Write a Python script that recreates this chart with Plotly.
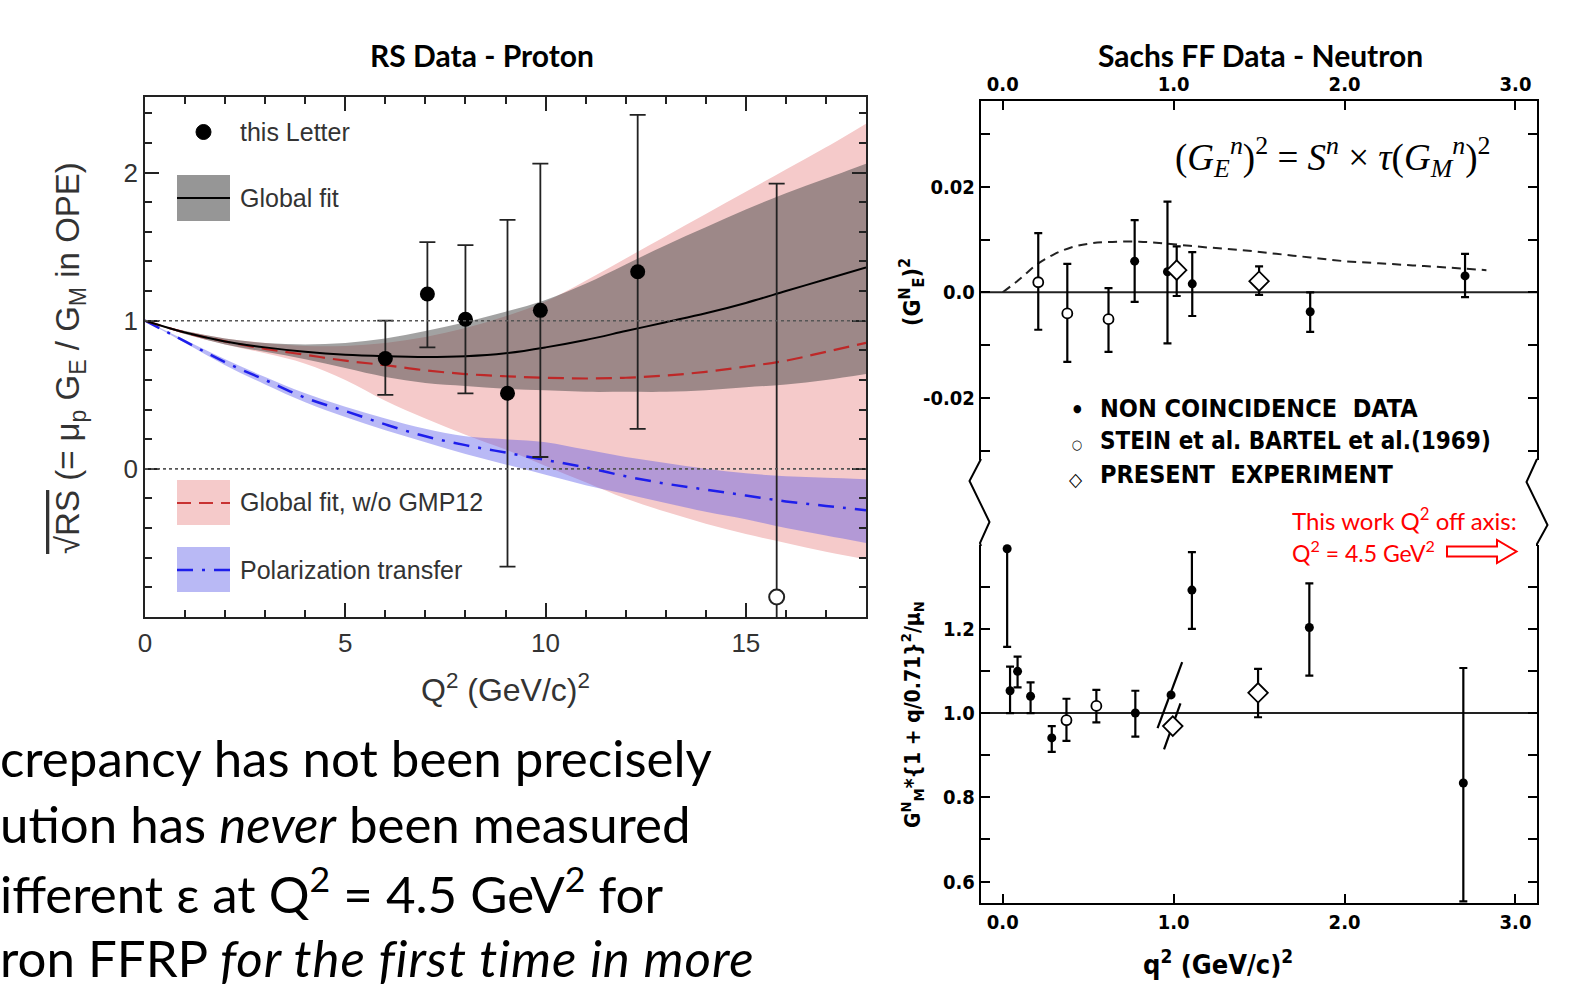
import plotly.graph_objects as go

W, H = 1570, 1005
def PX(x): return x / W
def PY(y): return 1 - y / H

# ---------------- Left panel: RS data - proton ----------------
letter_q = [6.0, 7.05, 8.0, 9.05, 9.87, 12.3]
letter_rs = [0.745, 1.18, 1.01, 0.51, 1.07, 1.33]
letter_err_plus = [0.255, 0.35, 0.50, 1.17, 0.99, 1.06]
letter_err_minus = [0.245, 0.36, 0.50, 1.17, 0.99, 1.06]
open_q = [15.77]
open_rs = [-0.865]
open_err = [2.79]

fit_q = [0, 1, 2, 3, 4, 5, 6, 7, 8, 9, 10, 11, 12, 13, 14, 15, 16, 17, 18]
global_fit = [1.0, 0.92, 0.86, 0.82, 0.79, 0.77, 0.76, 0.755, 0.76, 0.78, 0.82, 0.87, 0.93, 0.99, 1.05, 1.12, 1.2, 1.28, 1.36]
global_hi = [1.0, 0.93, 0.88, 0.85, 0.84, 0.85, 0.88, 0.93, 0.99, 1.06, 1.14, 1.25, 1.38, 1.51, 1.63, 1.75, 1.86, 1.96, 2.06]
global_lo = [1.0, 0.91, 0.84, 0.79, 0.74, 0.68, 0.62, 0.58, 0.56, 0.54, 0.53, 0.52, 0.52, 0.52, 0.53, 0.55, 0.57, 0.6, 0.64]
nogmp = [1.0, 0.92, 0.86, 0.81, 0.77, 0.73, 0.70, 0.665, 0.64, 0.625, 0.615, 0.61, 0.615, 0.63, 0.655, 0.69, 0.73, 0.79, 0.85]
nogmp_hi = [1.0, 0.93, 0.88, 0.85, 0.83, 0.83, 0.85, 0.89, 0.95, 1.03, 1.13, 1.27, 1.42, 1.57, 1.72, 1.87, 2.02, 2.17, 2.33]
nogmp_lo = [1.0, 0.91, 0.84, 0.78, 0.71, 0.6, 0.46, 0.34, 0.23, 0.13, 0.02, -0.09, -0.2, -0.29, -0.37, -0.44, -0.5, -0.56, -0.61]
pol = [1.0, 0.86, 0.72, 0.6, 0.48, 0.39, 0.3, 0.22, 0.16, 0.11, 0.06, 0.01, -0.05, -0.1, -0.14, -0.18, -0.22, -0.25, -0.28]
pol_hi = [1.0, 0.87, 0.74, 0.62, 0.51, 0.42, 0.34, 0.27, 0.22, 0.2, 0.18, 0.13, 0.08, 0.04, 0.0, -0.03, -0.05, -0.06, -0.07]
pol_lo = [1.0, 0.85, 0.70, 0.57, 0.45, 0.35, 0.26, 0.18, 0.1, 0.03, -0.04, -0.11, -0.17, -0.23, -0.29, -0.34, -0.4, -0.45, -0.5]

left_xticks = [0, 5, 10, 15]
left_yticks = [0, 1, 2]

# ---------------- Right panel: Sachs FF data - neutron ----------------
# upper: (G_E^N)^2
nc_q = [0.772, 0.964, 1.109, 1.799, 2.705]
nc_ge2 = [0.0059, 0.0039, 0.0016, -0.0037, 0.0031]
nc_ge2_hi = [0.0137, 0.0172, 0.0076, 0.0, 0.0073]
nc_ge2_lo = [-0.0018, -0.0097, -0.0045, -0.0075, -0.0009]
stein_q = [0.208, 0.378, 0.619]
stein_ge2 = [0.0019, -0.004, -0.0051]
stein_ge2_hi = [0.0112, 0.0054, 0.0008]
stein_ge2_lo = [-0.0071, -0.0132, -0.0113]
pres_q = [1.018, 1.5]
pres_ge2 = [0.0042, 0.0021]
pres_ge2_hi = [0.0087, 0.0049]
pres_ge2_lo = [-0.0007, -0.0005]
model_q = [0.0, 0.1, 0.2, 0.3, 0.4, 0.5, 0.6, 0.8, 1.0, 1.2, 1.4, 1.6, 1.8, 2.0, 2.2, 2.4, 2.6, 2.83]
model_ge2 = [0.0, 0.0025, 0.0053, 0.0072, 0.0085, 0.0092, 0.0095, 0.0096, 0.0091, 0.0085, 0.008, 0.0073, 0.0066, 0.0059, 0.0055, 0.0051, 0.0047, 0.0042]

# lower: G_M^N (1+q/0.71)^2 / mu_N
nc_qm = [0.026, 0.043, 0.087, 0.163, 0.287, 0.776, 1.107, 1.794, 2.695]
nc_gm = [1.39, 1.053, 1.099, 1.04, 0.941, 1.0, 1.292, 1.203, 0.834]
nc_gm_hi = [1.474, 1.11, 1.134, 1.073, 0.969, 1.053, 1.382, 1.308, 1.107]
nc_gm_lo = [1.157, 1.0, 1.061, 1.0, 0.908, 0.944, 1.2, 1.089, 0.553]
nc_slant_q = [0.985]
nc_slant_gm = [1.043]
nc_slant_bar_q = [0.906, 1.05]
nc_slant_bar_gm = [0.964, 1.121]
stein_qm = [0.373, 0.548]
stein_gm = [0.983, 1.017]
stein_gm_hi = [1.034, 1.055]
stein_gm_lo = [0.934, 0.978]
pres_qm = [0.995, 1.494]
pres_gm = [0.969, 1.048]
pres_slant_bar_q = [0.944, 1.04]
pres_slant_bar_gm = [0.914, 1.023]
pres_gm_err_plus = [0.0, 0.057]
pres_gm_err_minus = [0.0, 0.058]

right_xticks = [0, 1, 2, 3]
right_xticktext = ["0.0", "1.0", "2.0", "3.0"]
upper_yticks = [-0.02, 0.0, 0.02]
upper_yticktext = ["-0.02", "0.0", "0.02"]
lower_yticks = [0.6, 0.8, 1.0, 1.2]
lower_yticktext = ["0.6", "0.8", "1.0", "1.2"]

HELV = "Liberation Sans, Arial, sans-serif"
OLD = "DejaVu Sans Condensed, Liberation Sans Narrow, DejaVu Sans, sans-serif"
CAL = "Lato, Open Sans, sans-serif"

fig = go.Figure()

# bands (left)
def band(lo, hi, color):
    fig.add_trace(go.Scatter(x=fit_q, y=lo, mode="lines", line=dict(width=0), hoverinfo="skip",
                             line_shape="spline", showlegend=False, xaxis="x", yaxis="y"))
    fig.add_trace(go.Scatter(x=fit_q, y=hi, mode="lines", line=dict(width=0), fill="tonexty",
                             line_shape="spline", fillcolor=color, hoverinfo="skip", showlegend=False,
                             xaxis="x", yaxis="y"))

PINK = "rgb(245,202,202)"
GRAY = "rgba(70,70,70,0.5)"
BLUE = "rgba(80,80,232,0.4)"
band(nogmp_lo, nogmp_hi, PINK)
band(global_lo, global_hi, GRAY)
band(pol_lo, pol_hi, BLUE)

fig.add_trace(go.Scatter(x=fit_q, y=pol, mode="lines", line=dict(color="rgb(30,30,235)", width=2.5, dash="16px,9px,3px,9px"),
                         line_shape="spline", showlegend=False, xaxis="x", yaxis="y"))
fig.add_trace(go.Scatter(x=fit_q, y=nogmp, mode="lines", line=dict(color="rgb(190,40,40)", width=2.2, dash="16px,8px"),
                         line_shape="spline", showlegend=False, xaxis="x", yaxis="y"))
fig.add_trace(go.Scatter(x=fit_q, y=global_fit, mode="lines", line=dict(color="black", width=2),
                         line_shape="spline", showlegend=False, xaxis="x", yaxis="y"))

fig.add_trace(go.Scatter(x=letter_q, y=letter_rs, mode="markers",
                         marker=dict(color="black", size=15),
                         error_y=dict(type="data", array=letter_err_plus, arrayminus=letter_err_minus,
                                      color="#222", thickness=1.8, width=8),
                         showlegend=False, xaxis="x", yaxis="y"))
fig.add_trace(go.Scatter(x=open_q, y=open_rs, mode="markers",
                         marker=dict(color="white", size=15, line=dict(color="#222", width=2)),
                         error_y=dict(type="data", array=open_err, arrayminus=open_err,
                                      color="#222", thickness=1.8, width=8),
                         showlegend=False, xaxis="x", yaxis="y"))

# ---------------- right traces ----------------
EB = dict(color="black", thickness=2.2, width=4)
def errs(v, hi, lo):
    return [h - a for a, h in zip(v, hi)], [a - l for a, l in zip(v, lo)]

fig.add_trace(go.Scatter(x=model_q, y=model_ge2, mode="lines", line=dict(color="#222", width=2, dash="9px,6px"),
                         line_shape="spline", showlegend=False, xaxis="x2", yaxis="y2"))
p, m = errs(nc_ge2, nc_ge2_hi, nc_ge2_lo)
fig.add_trace(go.Scatter(x=nc_q, y=nc_ge2, mode="markers", marker=dict(color="black", size=9),
                         error_y=dict(type="data", array=p, arrayminus=m, **EB),
                         showlegend=False, xaxis="x2", yaxis="y2"))
p, m = errs(stein_ge2, stein_ge2_hi, stein_ge2_lo)
fig.add_trace(go.Scatter(x=stein_q, y=stein_ge2, mode="markers",
                         marker=dict(color="white", size=10, line=dict(color="black", width=1.8)),
                         error_y=dict(type="data", array=p, arrayminus=m, **EB),
                         showlegend=False, xaxis="x2", yaxis="y2"))
p, m = errs(pres_ge2, pres_ge2_hi, pres_ge2_lo)
fig.add_trace(go.Scatter(x=pres_q, y=pres_ge2, mode="markers",
                         marker=dict(color="white", size=15, symbol="diamond", line=dict(color="black", width=1.8)),
                         error_y=dict(type="data", array=p, arrayminus=m, **EB),
                         showlegend=False, xaxis="x2", yaxis="y2"))

# lower
fig.add_trace(go.Scatter(x=nc_slant_bar_q, y=nc_slant_bar_gm, mode="lines", line=dict(color="black", width=2.2),
                         showlegend=False, xaxis="x3", yaxis="y3"))
fig.add_trace(go.Scatter(x=pres_slant_bar_q, y=pres_slant_bar_gm, mode="lines", line=dict(color="black", width=2.2),
                         showlegend=False, xaxis="x3", yaxis="y3"))
p, m = errs(nc_gm, nc_gm_hi, nc_gm_lo)
fig.add_trace(go.Scatter(x=nc_qm, y=nc_gm, mode="markers", marker=dict(color="black", size=9),
                         error_y=dict(type="data", array=p, arrayminus=m, **EB), cliponaxis=False,
                         showlegend=False, xaxis="x3", yaxis="y3"))
fig.add_trace(go.Scatter(x=nc_slant_q, y=nc_slant_gm, mode="markers", marker=dict(color="black", size=9),
                         showlegend=False, xaxis="x3", yaxis="y3"))
p, m = errs(stein_gm, stein_gm_hi, stein_gm_lo)
fig.add_trace(go.Scatter(x=stein_qm, y=stein_gm, mode="markers",
                         marker=dict(color="white", size=10, line=dict(color="black", width=1.8)),
                         error_y=dict(type="data", array=p, arrayminus=m, **EB),
                         showlegend=False, xaxis="x3", yaxis="y3"))
fig.add_trace(go.Scatter(x=pres_qm, y=pres_gm, mode="markers",
                         marker=dict(color="white", size=15, symbol="diamond", line=dict(color="black", width=1.8)),
                         error_y=dict(type="data", array=pres_gm_err_plus, arrayminus=pres_gm_err_minus, **EB),
                         showlegend=False, xaxis="x3", yaxis="y3"))

# ---------------- layout / axes ----------------
LAX = dict(showline=True, linecolor="#222", linewidth=1.5, mirror="ticks", ticks="inside",
           tickcolor="#222", tickwidth=1.5, showgrid=False, zeroline=False, automargin=False,
           tickfont=dict(family=HELV, size=26, color="#333"))
RAX = dict(showline=True, linecolor="black", linewidth=2.2, ticks="inside", tickcolor="black",
           tickwidth=2, ticklen=9, showgrid=False, zeroline=False, automargin=False,
           tickfont=dict(family=OLD, size=20, color="black", weight="bold"))

fig.update_layout(
    width=W, height=H, margin=dict(l=0, r=0, t=0, b=0, autoexpand=False),
    paper_bgcolor="white", plot_bgcolor="rgba(0,0,0,0)", showlegend=False,
    xaxis=dict(domain=[PX(145), PX(866)], range=[0, 18], anchor="y",
               tickvals=left_xticks, ticklen=14, ticklabelstandoff=2,
               minor=dict(dtick=1, ticklen=7, ticks="inside", tickcolor="#222", tickwidth=1.5), **LAX),
    yaxis=dict(domain=[PY(617), PY(97)], range=[-1.0, 2.51], anchor="x",
               tickvals=left_yticks, ticklen=14,
               minor=dict(dtick=0.2, tick0=0, ticklen=7, ticks="inside", tickcolor="#222", tickwidth=1.5), **LAX),
    xaxis2=dict(domain=[PX(981), PX(1537)], range=[-0.127, 3.126], anchor="y2", side="top",
                tickvals=right_xticks, ticktext=right_xticktext, mirror=False, **RAX),
    yaxis2=dict(domain=[PY(460), PY(101)], range=[-0.0318, 0.03627], anchor="x2",
                tickvals=upper_yticks, ticktext=upper_yticktext, mirror="ticks",
                minor=dict(dtick=0.01, tick0=0, ticklen=9, ticks="inside", tickcolor="black", tickwidth=2), **RAX),
    xaxis3=dict(domain=[PX(981), PX(1537)], range=[-0.127, 3.126], anchor="y3", side="bottom",
                tickvals=right_xticks, ticktext=right_xticktext, mirror=False, **RAX),
    yaxis3=dict(domain=[PY(903), PY(545)], range=[0.549, 1.399], anchor="x3",
                tickvals=lower_yticks, ticktext=lower_yticktext, mirror="ticks",
                minor=dict(dtick=0.1, tick0=0, ticklen=9, ticks="inside", tickcolor="black", tickwidth=2), **RAX),
)

shapes = []
for yv in [0, 1]:
    shapes.append(dict(type="line", xref="x domain", yref="y", x0=0, x1=1, y0=yv, y1=yv,
                       line=dict(color="#555", width=1.6, dash="dot"), layer="above"))
shapes.append(dict(type="line", xref="x2 domain", yref="y2", x0=0, x1=1, y0=0, y1=0,
                   line=dict(color="#222", width=2), layer="below"))
shapes.append(dict(type="line", xref="x3 domain", yref="y3", x0=0, x1=1, y0=1, y1=1,
                   line=dict(color="#222", width=2), layer="below"))

def path(pts, close=False):
    s = "M " + " L ".join(f"{PX(x):.5f},{PY(y):.5f}" for x, y in pts)
    return s + (" Z" if close else "")

# axis break zigzags
shapes.append(dict(type="path", xref="paper", yref="paper",
                   path=path([(981, 459), (969.5, 481), (989.5, 522), (980, 543), (981, 546)]),
                   line=dict(color="black", width=2)))
shapes.append(dict(type="path", xref="paper", yref="paper",
                   path=path([(1537, 459), (1526.5, 482), (1547.5, 525), (1537, 544), (1537, 546)]),
                   line=dict(color="black", width=2)))
# hollow red arrow
shapes.append(dict(type="path", xref="paper", yref="paper",
                   path=path([(1447, 546.5), (1497, 546.5), (1497, 540), (1516.5, 551.5), (1497, 563),
                              (1497, 556.5), (1447, 556.5)], close=True),
                   line=dict(color="red", width=2), fillcolor="white"))

# left legend swatches
shapes.append(dict(type="circle", xref="paper", yref="paper", x0=PX(196), x1=PX(211), y0=PY(139.5), y1=PY(124.5),
                   fillcolor="black", line=dict(color="black", width=1)))
shapes.append(dict(type="rect", xref="paper", yref="paper", x0=PX(177), x1=PX(230), y0=PY(221), y1=PY(175),
                   fillcolor="rgb(150,150,150)", line=dict(width=0)))
shapes.append(dict(type="line", xref="paper", yref="paper", x0=PX(177), x1=PX(230), y0=PY(198), y1=PY(198),
                   line=dict(color="black", width=2)))
shapes.append(dict(type="rect", xref="paper", yref="paper", x0=PX(177), x1=PX(230), y0=PY(525), y1=PY(480),
                   fillcolor=PINK, line=dict(width=0)))
shapes.append(dict(type="line", xref="paper", yref="paper", x0=PX(177), x1=PX(230), y0=PY(503), y1=PY(503),
                   line=dict(color="rgb(200,50,50)", width=2.2, dash="14px,8px")))
shapes.append(dict(type="rect", xref="paper", yref="paper", x0=PX(177), x1=PX(230), y0=PY(592), y1=PY(547),
                   fillcolor="rgb(185,185,245)", line=dict(width=0)))
shapes.append(dict(type="line", xref="paper", yref="paper", x0=PX(177), x1=PX(230), y0=PY(570), y1=PY(570),
                   line=dict(color="rgb(30,30,235)", width=2.5, dash="16px,9px,3px,9px")))
fig.update_layout(shapes=shapes)

ann = []
def A(x, y, text, size, family, color="black", xanchor="center", angle=0, yanchor="middle"):
    ann.append(dict(x=PX(x), y=PY(y), xref="paper", yref="paper", text=text, showarrow=False,
                    xanchor=xanchor, yanchor=yanchor, textangle=angle,
                    font=dict(size=size, family=family, color=color)))

# titles
A(482, 55, "<b>RS Data - Proton</b>", 30, CAL)
A(1260, 55, "<b>Sachs FF Data - Neutron</b>", 30, CAL)
# left legend text
for yy, t in [(132, "this Letter"), (198, "Global fit"), (502, "Global fit, w/o GMP12"), (570, "Polarization transfer")]:
    A(238, yy, t, 25, HELV, "#333", xanchor="left")
# left axis titles
A(505, 688, "Q<sup>2</sup> (GeV/c)<sup>2</sup>", 32, HELV, "#333")
A(70, 358, "<span style='text-decoration:overline'>√RS</span> (= μ<sub>p</sub> G<sub>E</sub> / G<sub>M</sub> in OPE)",
  33, HELV, "#333", angle=-90)
# right texts
A(1332, 157, "(<i>G</i><sub><i>E</i></sub><sup><i>n</i></sup>)<sup>2</sup> = <i>S<sup>n</sup></i> × <i>τ</i>(<i>G</i><sub><i>M</i></sub><sup><i>n</i></sup>)<sup>2</sup>",
  37, "Liberation Serif, DejaVu Serif, serif")
A(1077, 409, "●", 11, OLD, xanchor="center")
A(1077, 444, "○", 13, OLD, xanchor="center")
A(1076, 479, "◇", 19, OLD, xanchor="center")
A(1098, 409, "<b>NON COINCIDENCE  DATA</b>", 25, OLD, xanchor="left")
A(1098, 441, "<b>STEIN et al. BARTEL et al.(1969)</b>", 24, OLD, xanchor="left")
A(1098, 475, "<b>PRESENT  EXPERIMENT</b>", 25, OLD, xanchor="left")
A(912, 292, "<b>(G<sup>N</sup><sub>E</sub>)<sup>2</sup></b>", 23, OLD, angle=-90)
A(912, 715, "<b>G<sup>N</sup><sub>M</sub>*{1 + q/0.71}<sup>2</sup>/μ<sub>N</sub></b>", 21, OLD, angle=-90)
A(1218, 962, "<b>q<sup>2</sup> (GeV/c)<sup>2</sup></b>", 27, OLD)
A(1290, 519, "This work Q<sup>2</sup> off axis:", 24, CAL, "red", xanchor="left")
A(1290, 551, "Q<sup>2</sup> = 4.5 GeV<sup>2</sup>", 23, CAL, "red", xanchor="left")
# bottom-left text
for yy, t in [(757, "crepancy has not been precisely"),
              (823, "ution has <i>never</i> been measured"),
              (890, "ifferent ε at Q<sup>2</sup> = 4.5 GeV<sup>2</sup> for"),
              (957, "ron FFRP <i><span style='letter-spacing:0.9px'>for the first time in more</span></i>")]:
    A(-2, yy, t, 51, CAL, "black", xanchor="left")
fig.update_layout(annotations=ann)

fig.write_html("out.html")
